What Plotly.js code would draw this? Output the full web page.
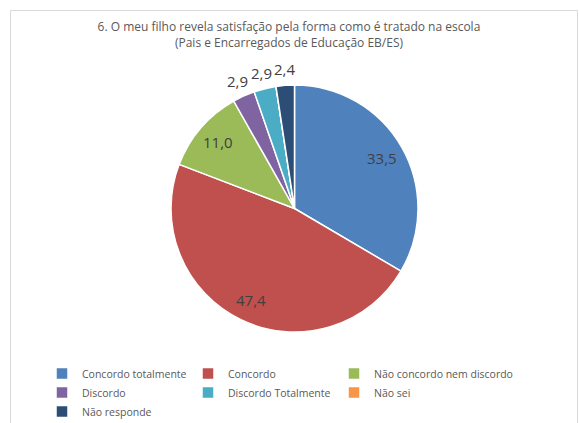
<!DOCTYPE html>
<html>
<head>
<meta charset="utf-8">
<script src="https://cdn.plot.ly/plotly-3.0.1.min.js"></script>
<style>html,body{margin:0;padding:0;background:#fff;}#chart{width:579px;height:423px;}</style>
</head>
<body>
<div id="chart"></div>
<script>
var categories = ["Concordo totalmente", "Concordo", "Não concordo nem discordo", "Discordo", "Discordo Totalmente", "Não sei", "Não responde"];
var values = [33.5, 47.4, 11.0, 2.9, 2.9, 0, 2.4];
var colors = ["#4F81BD", "#C0504D", "#9BBB59", "#8064A2", "#4BACC6", "#F79646", "#2C4D75"];
var labelOutside = [false, false, false, true, true, false, true];

var L = 20, R = 10, T = 85, B = 91, W = 579, H = 423;
var pw = W - L - R, ph = H - T - B;
function px(x) { return (x - L) / pw; }
function py(y) { return (H - B - y) / ph; }

var trace = {
  type: "pie",
  labels: categories,
  values: values,
  textinfo: "none",
  sort: false,
  direction: "clockwise",
  rotation: 0,
  marker: { colors: colors, line: { color: "#ffffff", width: 1.5 } },
  hoverinfo: "label+value"
};

// data labels, placed from the slice angles derived from the values
var total = values.reduce(function (a, b) { return a + b; }, 0);
var cxPx = L + pw / 2, cyPx = T + ph / 2, radius = Math.min(pw, ph) / 2;
var annotations = [];
var cum = 0;
values.forEach(function (v, i) {
  var mid = (cum + v / 2) / total;
  cum += v;
  if (v === 0) return;
  var ang = mid * 2 * Math.PI;
  var dist = labelOutside[i] ? radius + 16 : radius * 0.82;
  var x = cxPx + dist * Math.sin(ang);
  var y = cyPx - dist * Math.cos(ang);
  annotations.push({
    xref: "paper", yref: "paper",
    x: (x - L) / pw, y: (H - B - y) / ph,
    xanchor: "center", yanchor: "middle",
    text: v.toFixed(1).replace(".", ","),
    showarrow: false,
    font: { family: "Open Sans", size: 15, color: "#404040" }
  });
});

var layout = {
  width: W, height: H,
  margin: { l: L, r: R, t: T, b: B, pad: 0 },
  paper_bgcolor: "#ffffff",
  showlegend: true,
  title: {
    text: "6. O meu filho revela satisfação pela forma como é tratado na escola<br>(Pais e Encarregados de Educação EB/ES)",
    font: { family: "Open Sans", size: 12, color: "#595959" },
    x: px(294), xanchor: "center",
    yref: "container", y: 1 - 31 / H, yanchor: "top"
  },
  legend: {
    orientation: "h",
    xref: "container", yref: "container",
    x: 42 / W, xanchor: "left",
    y: 1 - 359 / H, yanchor: "top",
    entrywidth: 101,
    font: { family: "Open Sans", size: 10.5, color: "#595959" },
    traceorder: "normal",
    itemwidth: 30
  },
  annotations: annotations,
  shapes: [{
    type: "rect", xref: "paper", yref: "paper",
    x0: px(10.5), x1: px(577.5), y0: py(440), y1: py(10.5),
    line: { color: "#d9d9d9", width: 1 }, fillcolor: "rgba(0,0,0,0)", layer: "below"
  }]
};

Plotly.newPlot("chart", [trace], layout, { displayModeBar: false, staticPlot: true }).then(function (gd) {
  // let the last legend column show its full text instead of clipping it at the entry width
  var boxes = gd.querySelectorAll(".legend .scrollbox");
  boxes.forEach(function (b) { b.removeAttribute("clip-path"); });
});
</script>
</body>
</html>
